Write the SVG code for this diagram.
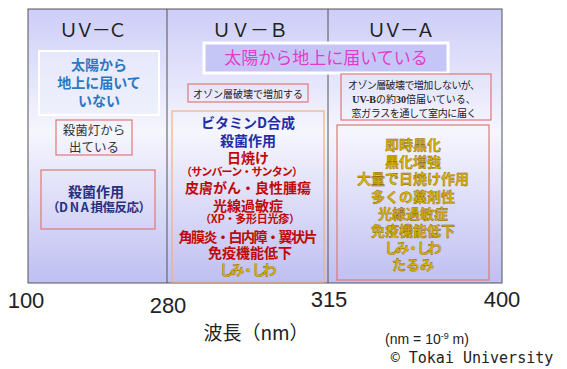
<svg xmlns="http://www.w3.org/2000/svg" width="567" height="369" viewBox="0 0 567 369">
<defs>
<linearGradient id="bg" x1="0" y1="0" x2="0" y2="1">
<stop offset="0" stop-color="#cdcdf8"/>
<stop offset="0.45" stop-color="#f6f6fe"/>
<stop offset="1" stop-color="#bfbff2"/>
</linearGradient>
</defs>
<style>
text{font-family:"Noto Sans CJK JP","Noto Sans",sans-serif;text-anchor:middle}
.hd{font-size:19px;fill:#222}
.pk{fill:none;stroke:#e07878;stroke-width:1.2}
.or{fill:none;stroke:#f0b080;stroke-width:1.2}
.b{font-weight:bold;font-size:14px}
.s{font-weight:bold;font-size:11px}
.blue{fill:#1e2ea8}
.red{fill:#c00808}
.yel{fill:#dcb400;stroke:#806000;stroke-width:0.35}
.sm{font-size:10px;fill:#222}
.num{font-family:"Liberation Sans",Arial,sans-serif;font-size:22px;fill:#222}
.lat{font-family:"Liberation Sans",Arial,sans-serif;font-size:14px;fill:#222}
.mono{font-family:"DejaVu Sans Mono","Liberation Mono",monospace;font-size:15px;fill:#222}
.ser{font-family:"Liberation Serif",serif;font-weight:bold}
</style>
<rect width="567" height="369" fill="#fff"/>
<g id="panel">
<rect x="28" y="9" width="474" height="274" fill="url(#bg)" stroke="#555" stroke-width="1"/>
<line x1="167" y1="9" x2="167" y2="283" stroke="#555" stroke-width="1"/>
<line x1="328" y1="9" x2="328" y2="283" stroke="#555" stroke-width="1"/>
</g>
<g id="uvc">
<text class="hd" x="93" y="37" textLength="68">ＵＶ－Ｃ</text>
<g id="uvc-not-reach">
<rect x="39" y="51" width="120" height="64" fill="#eef0fc" fill-opacity="0.6" stroke="#fff" stroke-width="2"/>
<text x="99" y="70" font-size="14" font-weight="bold" fill="#2a78c0">太陽から</text>
<text x="99" y="88" font-size="14" font-weight="bold" fill="#2a78c0">地上に届いて</text>
<text x="99" y="106" font-size="14" font-weight="bold" fill="#2a78c0">いない</text>
</g>
<g id="uvc-lamp">
<rect class="pk" x="56" y="120" width="76" height="35" fill="#fafaff"/>
<text x="94" y="135" font-size="12.5" fill="#333">殺菌灯から</text>
<text x="94" y="152" font-size="12.5" fill="#333">出ている</text>
</g>
<g id="uvc-effect">
<rect class="pk" x="41" y="170" width="114" height="59"/>
<text x="96" y="197" font-size="14" font-weight="bold" fill="#283080">殺菌作用</text>
<text x="99" y="212" font-size="12.5" font-weight="bold" fill="#283080" textLength="104">（D N A 損傷反応）</text>
</g>
</g>
<g id="uvb">
<text class="hd" x="250" y="37">ＵＶ－Ｂ</text>
<g id="reach-banner">
<rect x="204" y="43" width="244" height="30" fill="#c6c6f6" stroke="#fff" stroke-width="3"/>
<text x="326" y="64" font-size="17" fill="#e23ccc">太陽から地上に届いている</text>
</g>
<g id="uvb-ozone">
<rect class="pk" x="188" y="84" width="120" height="18" fill="#f8f8ff"/>
<text class="sm" x="248" y="97.5">オゾン層破壊で増加する</text>
</g>
<g id="uvb-effects">
<rect class="or" x="172" y="111" width="152" height="171"/>
<text class="b blue" x="248" y="128">ビタミンD合成</text>
<text class="b blue" x="248" y="146">殺菌作用</text>
<text class="b red" x="248" y="163">日焼け</text>
<text class="s red" x="242" y="176" textLength="122">（サンバーン・サンタン）</text>
<text class="b red" x="248" y="193">皮膚がん・良性腫瘍</text>
<text class="b red" x="248" y="211">光線過敏症</text>
<text class="s red" x="250" y="223" textLength="100">（XP・多形日光疹）</text>
<text class="b red" x="248" y="242" textLength="139">角膜炎・白内障・翼状片</text>
<text class="b red" x="250" y="258">免疫機能低下</text>
<text class="b yel" x="248" y="275" textLength="57">しみ・しわ</text>
</g>
</g>
<g id="uva">
<text class="hd" x="401" y="37" textLength="68">ＵＶ－Ａ</text>
<g id="uva-ozone">
<rect class="pk" x="341" y="74" width="150" height="46" fill="#f8f8ff"/>
<text class="sm" x="414" y="89" textLength="132">オゾン層破壊で増加しないが、</text>
<text class="sm" x="414" y="103"><tspan class="ser">UV-B</tspan>の約<tspan class="ser">30</tspan>倍届いている、</text>
<text class="sm" x="414" y="117" textLength="125">窓ガラスを通して室内に届く</text>
</g>
<g id="uva-effects">
<rect class="pk" x="337" y="125" width="152" height="155"/>
<text class="b yel" x="413" y="150">即時黒化</text>
<text class="b yel" x="413" y="167">黒化増強</text>
<text class="b yel" x="413" y="184">大量で日焼け作用</text>
<text class="b yel" x="413" y="202">多くの薬剤性</text>
<text class="b yel" x="413" y="219">光線過敏症</text>
<text class="b yel" x="413" y="236">免疫機能低下</text>
<text class="b yel" x="413" y="253" textLength="57">しみ・しわ</text>
<text class="b yel" x="413" y="270">たるみ</text>
</g>
</g>
<g id="axis">
<text class="num" x="26" y="308">100</text>
<text class="num" x="168" y="313">280</text>
<text class="num" x="329" y="307">315</text>
<text class="num" x="502" y="307">400</text>
<text x="256" y="340" font-size="19" fill="#222">波長（nm）</text>
<text class="lat" x="427" y="344">(nm = 10<tspan font-size="9" dy="-5">-9</tspan><tspan dy="5"> m)</tspan></text>
<text class="mono" x="472" y="363">© Tokai University</text>
</g>
</svg>
